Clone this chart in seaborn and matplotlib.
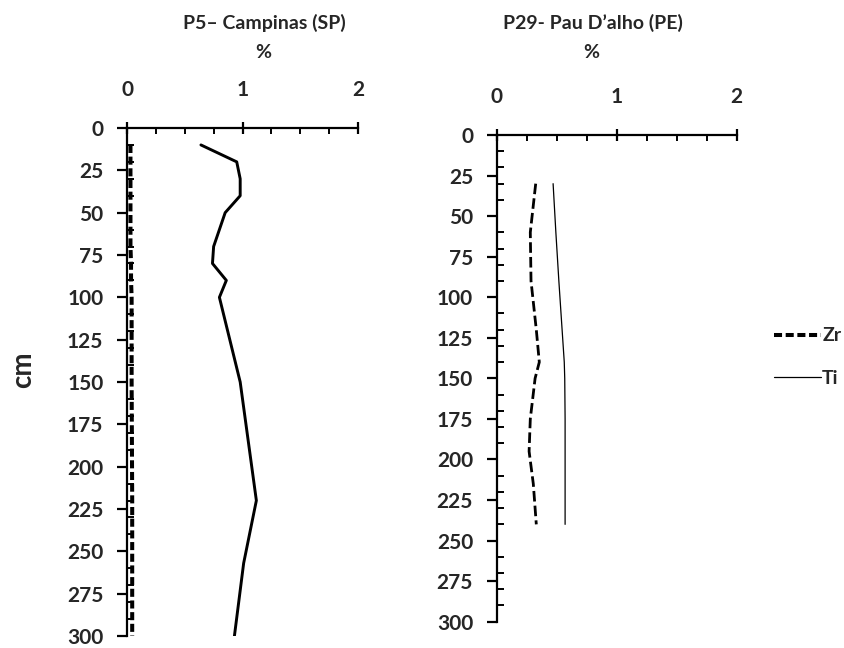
import matplotlib
matplotlib.use("Agg")
import matplotlib.pyplot as plt
from matplotlib.ticker import MultipleLocator
import pandas as pd
import seaborn as sns

# Profile P5 - Campinas (SP)
depth_p5 = [10, 20, 30, 40, 50, 60, 70, 80, 90, 100, 150, 220, 257, 300]
ti_p5 = [0.64, 0.95, 0.98, 0.98, 0.85, 0.80, 0.75, 0.74, 0.86, 0.80, 0.98, 1.12, 1.01, 0.93]
zr_p5 = [0.03, 0.03, 0.03, 0.03, 0.03, 0.03, 0.03, 0.035, 0.035, 0.04, 0.04, 0.045, 0.045, 0.045]

# Profile P29 - Pau D'alho (PE)
depth_p29 = [30, 60, 90, 120, 140, 150, 175, 195, 215, 240]
ti_p29 = [0.47, 0.493, 0.518, 0.545, 0.563, 0.567, 0.57, 0.57, 0.57, 0.57]
zr_p29 = [0.325, 0.28, 0.286, 0.33, 0.355, 0.32, 0.28, 0.27, 0.305, 0.33]

titles = ["P5\u2013 Campinas (SP)", "P29- Pau D\u2019alho (PE)"]
x_ticks = [0, 1, 2]
y_ticks = [0, 25, 50, 75, 100, 125, 150, 175, 200, 225, 250, 275, 300]

sns.set_theme(style="white")
plt.rcParams["font.family"] = ["Lato", "DejaVu Sans"]
plt.rcParams["font.weight"] = "bold"
HEAVY = "bold"

fig = plt.figure(figsize=(8.45, 6.48), dpi=100)
W, H = 845, 648
ax1 = fig.add_axes([127 / W, 1 - 636 / H, 231 / W, 508 / H])
ax2 = fig.add_axes([496.7 / W, 1 - 621.7 / H, 240 / W, 486.7 / H])

p5 = pd.DataFrame({"depth": depth_p5, "Ti": ti_p5, "Zr": zr_p5})
p29 = pd.DataFrame({"depth": depth_p29, "Ti": ti_p29, "Zr": zr_p29})

sns.lineplot(data=p5, x="Zr", y="depth", orient="y", sort=False, ax=ax1,
             color="black", lw=2.9, dashes=False, label="Zr")
ax1.lines[-1].set_dashes((2.0, 0.9))
sns.lineplot(data=p5, x="Ti", y="depth", orient="y", sort=False, ax=ax1,
             color="black", lw=2.1, label="Ti")

sns.lineplot(data=p29, x="Zr", y="depth", orient="y", sort=False, ax=ax2,
             color="black", lw=2.0, label="Zr")
ax2.lines[-1].set_dashes((3.8, 1.5))
sns.lineplot(data=p29, x="Ti", y="depth", orient="y", sort=False, ax=ax2,
             color="black", lw=0.9, label="Ti")

for ax in (ax1, ax2):
    ax.set_xlim(0, 2)
    ax.set_ylim(300, 0)
    ax.set_xlabel("")
    ax.set_ylabel("")
    ax.xaxis.set_ticks_position("top")
    ax.xaxis.set_label_position("top")
    ax.set_xticks(x_ticks)
    ax.set_yticks(y_ticks)
    ax.xaxis.set_minor_locator(MultipleLocator(0.25))
    ax.yaxis.set_minor_locator(MultipleLocator(10))
    for side in ("right", "bottom"):
        ax.spines[side].set_visible(False)
    for side in ("left", "top"):
        ax.spines[side].set_color("black")
        ax.spines[side].set_linewidth(1.6)
    ax.tick_params(axis="x", which="major", top=True, bottom=False, direction="inout",
                   length=8, width=1.6, color="black", pad=16, labelsize=15)
    ax.tick_params(axis="x", which="minor", top=True, bottom=False, direction="in",
                   length=4, width=1.4, color="black")
    ax.tick_params(axis="y", which="major", left=True, direction="out",
                   length=7, width=1.6, color="black", pad=10, labelsize=15)
    ax.tick_params(axis="y", which="minor", left=True, direction="in",
                   length=5, width=1.4, color="black")
    for lab in ax.get_xticklabels() + ax.get_yticklabels():
        lab.set_fontweight(HEAVY)
    ax.set_facecolor("white")
    ax.get_legend().remove()

fig.text(264 / W, 1 - 23 / H, titles[0], ha="center", va="center", fontsize=14, fontweight=HEAVY)
fig.text(263 / W, 1 - 52 / H, "%", ha="center", va="center", fontsize=14, fontweight=HEAVY)
fig.text(593 / W, 1 - 23 / H, titles[1], ha="center", va="center", fontsize=14, fontweight=HEAVY)
fig.text(591 / W, 1 - 52 / H, "%", ha="center", va="center", fontsize=14, fontweight=HEAVY)
fig.text(23 / W, 1 - 370 / H, "cm", ha="center", va="center", rotation=90, fontsize=20,
         fontweight="bold")

handles = [ax1.lines[0], ax2.lines[1]]
fig.legend(handles, ["Zr", "Ti"], loc="center left", bbox_to_anchor=(757 / W, 1 - 357 / H),
           frameon=False, handlelength=2.4, handletextpad=0.05, labelspacing=1.3,
           prop={"weight": HEAVY, "size": 14})

fig.savefig("out.png", dpi=100, facecolor="white")
